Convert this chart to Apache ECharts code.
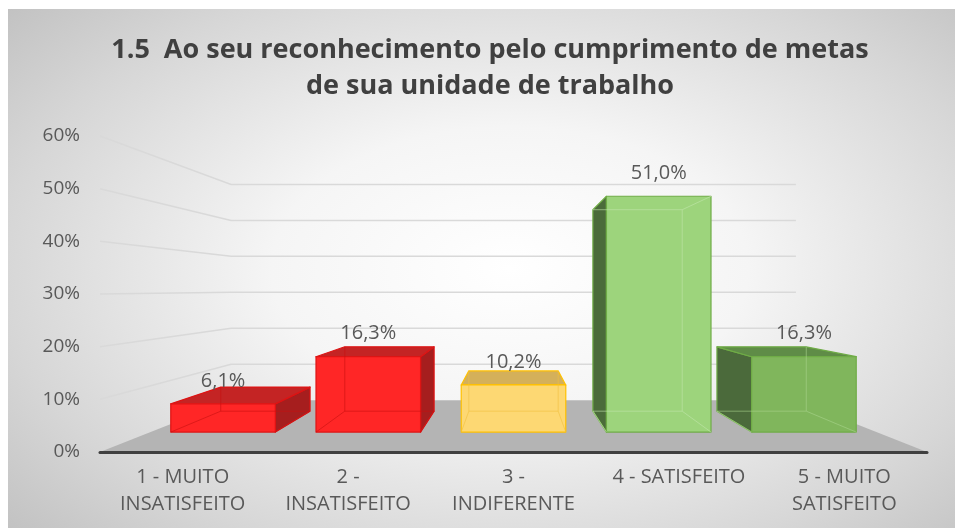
<!DOCTYPE html>
<html>
<head>
<meta charset="utf-8">
<script src="https://cdn.jsdelivr.net/npm/echarts@6/dist/echarts.min.js"></script>
<style>
    html, body { margin: 0; padding: 0; background: #fff; width: 955px; height: 528px; overflow: hidden; }
    #chart {
        position: absolute; left: 8px; top: 9px; width: 947px; height: 519px;
        background: radial-gradient(ellipse 72% 78% at 53% 50%, #ffffff 0%, #f5f5f5 35%, #d6d6d6 75%, #c0c0c0 100%);
    }
</style>
</head>
<body>
<div id="chart"></div>
<script>
// Dados do gráfico
const categorias = ['1 - MUITO\nINSATISFEITO', '2 -\nINSATISFEITO', '3 -\nINDIFERENTE', '4 - SATISFEITO', '5 - MUITO\nSATISFEITO'];
const percentuais = [6.1, 16.3, 10.2, 51.0, 16.3];
const marcasEixo = [0, 10, 20, 30, 40, 50, 60];

// Cores de cada barra (frente, topo, lateral, borda, arestas ocultas)
const cores = [
    { frente: '#ff2626', topo: '#c42424', lado: '#a61e1e', borda: '#dd1414', oculta: '#c81010' },
    { frente: '#ff2626', topo: '#c42424', lado: '#a61e1e', borda: '#dd1414', oculta: '#c81010' },
    { frente: '#fdd873', topo: '#d4b05a', lado: '#c9a346', borda: '#ffc000', oculta: '#f0c040' },
    { frente: '#9dd47c', topo: '#6c9f4f', lado: '#4b6b3a', borda: '#6fac46', oculta: '#c2e6ab' },
    { frente: '#80b65c', topo: '#5f8c47', lado: '#4b6a3b', borda: '#6fac46', oculta: '#a9d48c' }
];

// Perspectiva: ponto de fuga e profundidades (1 = borda frontal do piso)
const PONTO_FUGA = [2, 31];
const K_FRENTE_BARRA = 0.878;
const K_FUNDO_BARRA = 0.75;
const K_PAREDE = 0.683;
const LARGURA_BARRA = 0.72;

const projetar = (p, vp, k) => [vp[0] + (p[0] - vp[0]) * k, vp[1] + (p[1] - vp[1]) * k];

const desenharCenario = (params, api) => {
    const vp = api.coord(PONTO_FUGA);
    const banda = api.size([1, 0])[0];
    const xE = api.coord([0, 0])[0] - banda / 2;
    const xD = api.coord([categorias.length - 1, 0])[0] + banda / 2;
    const y0 = api.coord([0, 0])[1];
    const filhos = [];

    // piso
    filhos.push({
        type: 'polygon',
        shape: { points: [[xE, y0], [xD, y0], projetar([xD, y0], vp, K_PAREDE), projetar([xE, y0], vp, K_PAREDE)] },
        style: { fill: '#b4b4b4' }
    });

    // linhas de grade (parede lateral + parede do fundo)
    marcasEixo.forEach(t => {
        if (t === 0) return;
        const y = api.coord([0, t])[1];
        filhos.push({
            type: 'polyline',
            shape: { points: [[xE, y], projetar([xE, y], vp, K_PAREDE), projetar([xD, y], vp, K_PAREDE)] },
            style: { stroke: '#d9d9d9', lineWidth: 1.5, fill: null }
        });
    });

    return { type: 'group', children: filhos };
};

const desenharBarra = (params, api) => {
    const i = api.value(0);
    const v = api.value(1);
    const topo = api.coord([i, v]);
    const base = api.coord([i, 0]);
    const hw = api.size([1, 0])[0] * LARGURA_BARRA / 2;
    const vp = api.coord(PONTO_FUGA);
    const cor = cores[i];
    const P = (x, y, k) => projetar([x, y], vp, k);

    const fTL = P(topo[0] - hw, topo[1], K_FRENTE_BARRA), fTR = P(topo[0] + hw, topo[1], K_FRENTE_BARRA);
    const fBL = P(topo[0] - hw, base[1], K_FRENTE_BARRA), fBR = P(topo[0] + hw, base[1], K_FRENTE_BARRA);
    const bTL = P(topo[0] - hw, topo[1], K_FUNDO_BARRA), bTR = P(topo[0] + hw, topo[1], K_FUNDO_BARRA);
    const bBL = P(topo[0] - hw, base[1], K_FUNDO_BARRA), bBR = P(topo[0] + hw, base[1], K_FUNDO_BARRA);

    const face = (pts, fill) => ({
        type: 'polygon',
        shape: { points: pts },
        style: { fill: fill, stroke: cor.borda, lineWidth: 1.2, lineJoin: 'round' }
    });
    const aresta = (a, b) => ({
        type: 'line',
        shape: { x1: a[0], y1: a[1], x2: b[0], y2: b[1] },
        style: { stroke: cor.oculta, lineWidth: 1, opacity: 0.6 }
    });

    const ladoEsq = fTL[0] > bTL[0];
    const ladoDir = fTR[0] < bTR[0];
    const topoVisivel = fTL[1] > bTL[1];

    const filhos = [];
    if (ladoEsq) filhos.push(face([fTL, bTL, bBL, fBL], cor.lado));
    if (ladoDir) filhos.push(face([fTR, bTR, bBR, fBR], cor.lado));
    if (topoVisivel) filhos.push(face([fTL, fTR, bTR, bTL], cor.topo));
    filhos.push(face([fTL, fTR, fBR, fBL], cor.frente));

    // arestas ocultas (barras translúcidas)
    filhos.push(aresta(bBL, bBR), aresta(fBL, bBL), aresta(fBR, bBR));
    if (!ladoEsq) filhos.push(aresta(bTL, bBL));
    if (!ladoDir) filhos.push(aresta(bTR, bBR));
    if (!topoVisivel) {
        filhos.push(aresta(bTL, bTR));
        if (!ladoDir) filhos.push(aresta(fTR, bTR));
        if (!ladoEsq) filhos.push(aresta(fTL, bTL));
    }

    filhos.push({
        type: 'text',
        style: {
            text: v.toFixed(1).replace('.', ',') + '%',
            x: (fTL[0] + fTR[0]) / 2,
            y: fTL[1] - 23,
            align: 'center',
            verticalAlign: 'middle',
            fill: '#595959',
            font: '20px "Open Sans"'
        }
    });

    return { type: 'group', children: filhos };
};

const chart = echarts.init(document.getElementById('chart'));

chart.setOption({
    animation: false,
    backgroundColor: 'transparent',
    title: {
        text: '1.5  Ao seu reconhecimento pelo cumprimento de metas\nde sua unidade de trabalho',
        left: 477,
        top: 18,
        textAlign: 'center',
        textStyle: {
            fontFamily: 'Open Sans',
            fontWeight: 'bold',
            fontSize: 27,
            lineHeight: 36,
            color: '#404040'
        }
    },
    grid: { left: 92, right: 28, top: 127, bottom: 76 },
    xAxis: {
        type: 'category',
        data: categorias,
        z: 10,
        axisLine: { lineStyle: { color: '#404040', width: 3 } },
        axisTick: { show: false },
        axisLabel: {
            margin: 12,
            color: '#595959',
            fontFamily: 'Open Sans',
            fontSize: 20,
            lineHeight: 27,
            interval: 0
        }
    },
    yAxis: {
        type: 'value',
        min: 0,
        max: 60,
        interval: 10,
        axisLine: { show: false },
        axisTick: { show: false },
        splitLine: { show: false },
        axisLabel: {
            margin: 20,
            formatter: '{value}%',
            color: '#595959',
            fontFamily: 'Open Sans',
            fontSize: 19
        }
    },
    series: [
        {
            type: 'custom',
            renderItem: desenharCenario,
            data: [[0, 0]],
            silent: true,
            z: 1
        },
        {
            type: 'custom',
            renderItem: desenharBarra,
            encode: { x: 0, y: 1 },
            data: percentuais.map((v, i) => [i, v]),
            z: 2
        }
    ]
});
</script>
</body>
</html>
